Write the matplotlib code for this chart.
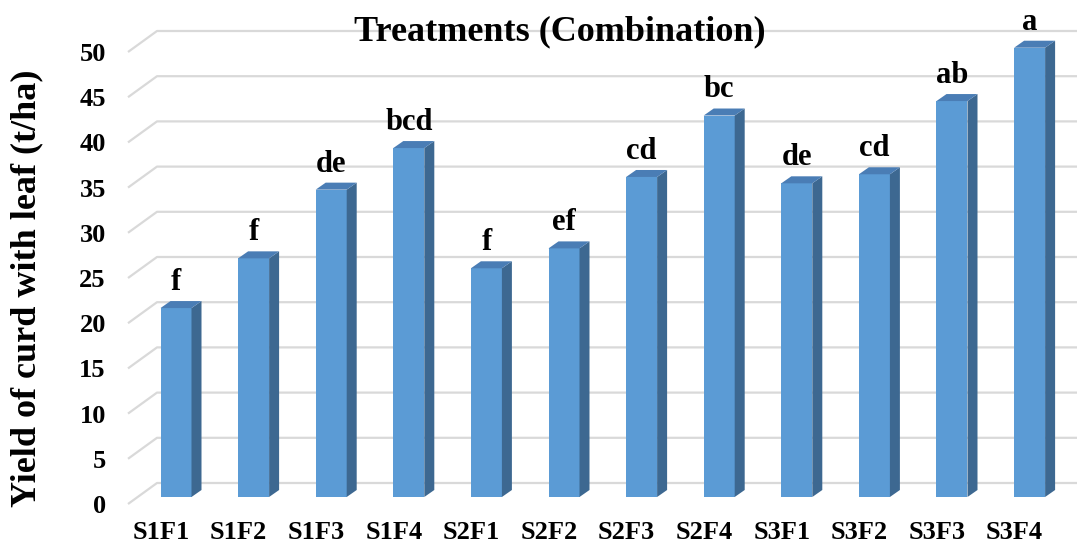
import matplotlib
matplotlib.use("Agg")
import matplotlib.pyplot as plt
from matplotlib.patches import Polygon
from matplotlib.transforms import ScaledTranslation

plt.rcParams['font.family'] = ['Liberation Serif', 'DejaVu Serif']
plt.rcParams['font.weight'] = 'bold'

# yield of curd with leaf (t/ha) per treatment combination
treatments = ['S1F1', 'S1F2', 'S1F3', 'S1F4', 'S2F1', 'S2F2',
              'S2F3', 'S2F4', 'S3F1', 'S3F2', 'S3F3', 'S3F4']
yields = [20.9, 26.4, 34.0, 38.6, 25.3, 27.5,
          35.4, 42.2, 34.7, 35.7, 43.8, 49.7]
letters = ['f', 'f', 'de', 'bcd', 'f', 'ef',
           'cd', 'bc', 'de', 'cd', 'ab', 'a']
yticks = list(range(0, 55, 5))

W, H = 1077, 544
fig = plt.figure(figsize=(W / 100, H / 100), dpi=100)

# pixel geometry of the plot box
px_per_cat = 77.6
px_per_unit = 9.04
x0_px = 176          # centre of first bar
base_px = 497        # bottom of the bar fronts
left_px, right_px = 128, W
bottom_px, top_px = 504, 10

ax = fig.add_axes([left_px / W, (H - bottom_px) / H,
                   (right_px - left_px) / W, (bottom_px - top_px) / H])
ax.set_xlim((left_px - x0_px) / px_per_cat, (right_px - x0_px) / px_per_cat)
ax.set_ylim((base_px - bottom_px) / px_per_unit, (base_px - top_px) / px_per_unit)
for s in ax.spines.values():
    s.set_visible(False)

# depth of the 3-D look
bar_w = 31 / px_per_cat
dx = 10 / px_per_cat
dy = 7 / px_per_unit
front = -7 / px_per_unit       # front edge of the floor
back = 14 / px_per_unit        # back wall offset
wall_x = (157 - x0_px) / px_per_cat
xl, xr = ax.get_xlim()

# gridlines: short slanted piece on the side wall, then along the back wall
for g in yticks:
    ax.plot([xl, wall_x, xr + 1], [g + front, g + back, g + back],
            color='#d9d9d9', lw=1.6, zorder=1, clip_on=False,
            solid_capstyle='butt')

xs = list(range(len(treatments)))
ax.bar(xs, yields, width=bar_w, color='#5b9bd5', zorder=3, linewidth=0)
for x, v in zip(xs, yields):
    xr_ = x + bar_w / 2
    xl_ = x - bar_w / 2
    side = Polygon([(xr_, 0), (xr_ + dx, dy), (xr_ + dx, v + dy), (xr_, v)],
                   closed=True, facecolor='#3d6891', edgecolor='none', zorder=3)
    top = Polygon([(xl_, v), (xr_, v), (xr_ + dx, v + dy), (xl_ + dx, v + dy)],
                  closed=True, facecolor='#4a7db5', edgecolor='none', zorder=3)
    ax.add_patch(side)
    ax.add_patch(top)

for x, v, t in zip(xs, yields, letters):
    ax.annotate(t, (x, v), xytext=(0, 13), textcoords='offset points',
                ha='center', va='baseline', fontsize=22, fontweight='bold',
                zorder=5)

ax.set_xticks(xs)
ax.set_xticklabels(treatments, fontsize=19, fontweight='bold')
ax.set_yticks(yticks)
ax.set_yticklabels([str(g) for g in yticks], fontsize=19, fontweight='bold')
ax.tick_params(axis='x', length=0, pad=12)
ax.tick_params(axis='y', length=0, pad=16)
for lab in ax.get_xticklabels():
    lab.set_transform(lab.get_transform() + ScaledTranslation(-15 / 100, 0, fig.dpi_scale_trans))
for lab in ax.get_yticklabels():
    lab.set_transform(lab.get_transform() + ScaledTranslation(0, -7 / 100, fig.dpi_scale_trans))

fig.text(27 / W, (H - 288) / H, 'Yield of curd with leaf (t/ha)', rotation=90,
         ha='center', va='center', fontsize=26, fontweight='bold')

fig.text(560 / W, (H - 32) / H, 'Treatments (Combination)', ha='center',
         va='center', fontsize=26, fontweight='bold')

fig.savefig('out.png', dpi=100)
